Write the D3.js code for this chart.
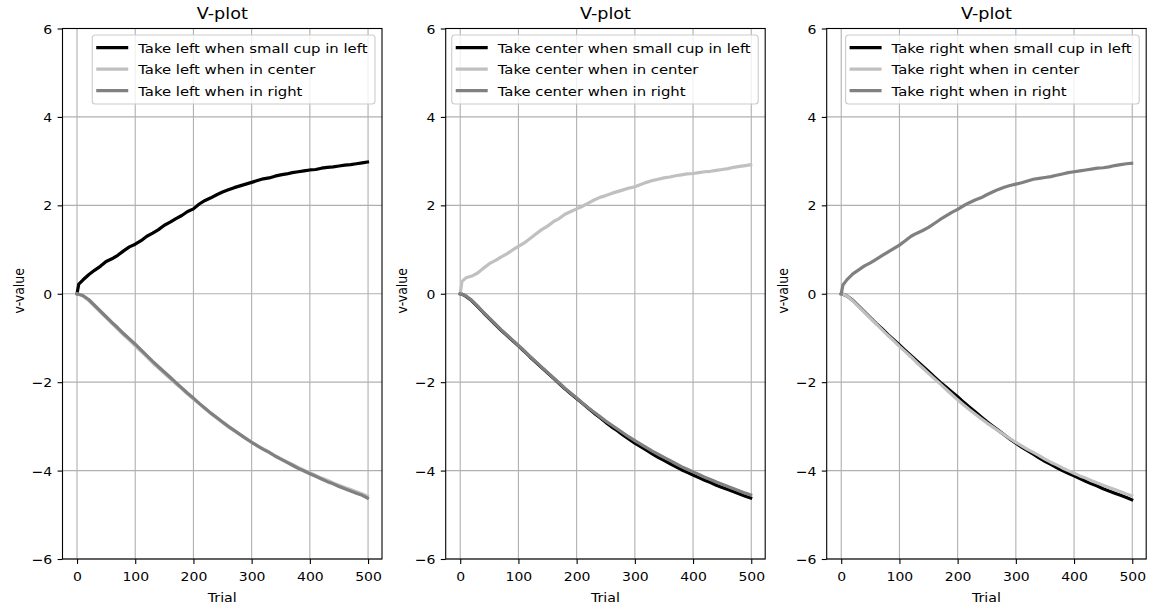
<!DOCTYPE html>
<html><head><meta charset="utf-8">
<script src="https://cdn.jsdelivr.net/npm/d3@7"></script>
<style>body{margin:0;background:#fff}svg{display:block}text{font-family:"DejaVu Sans",sans-serif;fill:#000}</style>
</head><body><svg id="c" width="1153" height="606"></svg>
<script>
const trials = [0,3,10,20,30,40,50,60,70,80,90,100,110,120,130,140,150,160,170,180,190,200,210,220,230,240,250,260,270,280,290,300,310,320,330,340,350,360,370,380,390,400,410,420,430,440,450,460,470,480,490,499];

const xTicks = [0,100,200,300,400,500];
const yTicks = [-6,-4,-2,0,2,4,6];
const titles = ["V-plot","V-plot","V-plot"];
const seriesColors = ["#000000","#c0c0c0","#808080"];

const labelsLeft = ["Take left when small cup in left","Take left when in center","Take left when in right"];
const labelsCenter = ["Take center when small cup in left","Take center when in center","Take center when in right"];
const labelsRight = ["Take right when small cup in left","Take right when in center","Take right when in right"];

// Panel 1
const p1Black = [0,0.22,0.31,0.43,0.53,0.62,0.73,0.79,0.87,0.97,1.06,1.12,1.2,1.3,1.37,1.45,1.55,1.62,1.7,1.77,1.86,1.92,2.03,2.11,2.17,2.24,2.3,2.35,2.4,2.44,2.48,2.52,2.56,2.6,2.62,2.66,2.69,2.71,2.74,2.76,2.78,2.8,2.81,2.84,2.86,2.87,2.89,2.91,2.92,2.94,2.96,2.98];
const p1Light = [0,-0.01,-0.05,-0.15,-0.28,-0.41,-0.54,-0.67,-0.8,-0.93,-1.05,-1.18,-1.3,-1.43,-1.56,-1.68,-1.8,-1.92,-2.04,-2.15,-2.27,-2.38,-2.49,-2.6,-2.71,-2.81,-2.91,-3.01,-3.1,-3.19,-3.28,-3.36,-3.44,-3.51,-3.58,-3.66,-3.73,-3.8,-3.86,-3.93,-3.99,-4.05,-4.11,-4.17,-4.22,-4.28,-4.33,-4.38,-4.43,-4.48,-4.53,-4.58];
const p1Gray = [0,-0.01,-0.04,-0.13,-0.26,-0.39,-0.52,-0.65,-0.77,-0.9,-1.02,-1.14,-1.27,-1.4,-1.53,-1.65,-1.77,-1.89,-2.01,-2.13,-2.25,-2.36,-2.48,-2.59,-2.7,-2.8,-2.9,-3.0,-3.09,-3.18,-3.27,-3.36,-3.44,-3.52,-3.59,-3.67,-3.74,-3.81,-3.88,-3.95,-4.01,-4.07,-4.13,-4.19,-4.25,-4.3,-4.36,-4.41,-4.46,-4.51,-4.56,-4.62];

// Panel 2
const p2Black = [0,-0.01,-0.06,-0.16,-0.29,-0.43,-0.56,-0.69,-0.82,-0.94,-1.06,-1.18,-1.3,-1.43,-1.55,-1.67,-1.79,-1.91,-2.03,-2.15,-2.26,-2.37,-2.48,-2.59,-2.7,-2.8,-2.91,-3.01,-3.1,-3.2,-3.29,-3.38,-3.46,-3.54,-3.62,-3.7,-3.77,-3.84,-3.91,-3.98,-4.04,-4.1,-4.16,-4.22,-4.27,-4.33,-4.38,-4.43,-4.48,-4.53,-4.58,-4.62];
const p2Light = [0,0.28,0.36,0.4,0.47,0.58,0.68,0.75,0.83,0.9,0.99,1.07,1.15,1.25,1.35,1.45,1.53,1.63,1.7,1.8,1.86,1.92,1.98,2.05,2.12,2.18,2.22,2.27,2.31,2.35,2.39,2.42,2.47,2.52,2.56,2.59,2.62,2.64,2.67,2.69,2.71,2.72,2.74,2.76,2.77,2.79,2.81,2.83,2.86,2.88,2.9,2.92];
const p2Gray = [0,-0.01,-0.05,-0.15,-0.28,-0.42,-0.55,-0.68,-0.81,-0.93,-1.05,-1.17,-1.29,-1.42,-1.54,-1.66,-1.78,-1.9,-2.02,-2.14,-2.25,-2.36,-2.47,-2.58,-2.68,-2.78,-2.88,-2.97,-3.06,-3.15,-3.24,-3.32,-3.4,-3.48,-3.56,-3.63,-3.7,-3.77,-3.84,-3.91,-3.97,-4.03,-4.09,-4.15,-4.2,-4.26,-4.31,-4.36,-4.41,-4.46,-4.51,-4.55];

// Panel 3
const p3Black = [0,-0.01,-0.05,-0.15,-0.28,-0.41,-0.54,-0.67,-0.79,-0.92,-1.04,-1.16,-1.28,-1.4,-1.52,-1.64,-1.76,-1.88,-2.0,-2.11,-2.22,-2.33,-2.45,-2.56,-2.67,-2.78,-2.89,-2.99,-3.09,-3.19,-3.29,-3.38,-3.47,-3.55,-3.63,-3.71,-3.79,-3.86,-3.93,-4.0,-4.06,-4.12,-4.18,-4.24,-4.3,-4.35,-4.41,-4.46,-4.51,-4.56,-4.61,-4.66];
const p3Light = [0,-0.01,-0.05,-0.16,-0.29,-0.42,-0.55,-0.68,-0.81,-0.94,-1.06,-1.19,-1.31,-1.43,-1.56,-1.68,-1.8,-1.92,-2.04,-2.16,-2.28,-2.4,-2.51,-2.62,-2.72,-2.82,-2.92,-3.01,-3.1,-3.19,-3.28,-3.36,-3.44,-3.52,-3.59,-3.66,-3.74,-3.81,-3.87,-3.94,-4.0,-4.06,-4.12,-4.17,-4.23,-4.28,-4.33,-4.38,-4.43,-4.48,-4.53,-4.57];
const p3Gray = [0,0.2,0.32,0.45,0.54,0.63,0.7,0.78,0.86,0.94,1.02,1.1,1.2,1.3,1.37,1.43,1.5,1.59,1.68,1.76,1.84,1.91,1.99,2.06,2.12,2.17,2.24,2.3,2.36,2.41,2.45,2.48,2.51,2.55,2.59,2.61,2.63,2.65,2.68,2.71,2.74,2.76,2.78,2.8,2.82,2.84,2.85,2.87,2.9,2.92,2.94,2.95];

const panels = [
  {labels: labelsLeft, series: [p1Black,p1Light,p1Gray], left: 62.5},
  {labels: labelsCenter, series: [p2Black,p2Light,p2Gray], left: 445.7},
  {labels: labelsRight, series: [p3Black,p3Light,p3Gray], left: 826.7}
];

const svg = d3.select("#c");
const W = 319.5, plotTop = 28.5, H = 530.5;
const vf = 0.88;           // vertical squash of the text glyphs
const fsTick = 14.0, fsLabel = 14.2, fsLeg = 14.85, fsTitle = 17.6;

function put(sel, x, y, rot) {
  return sel.attr("transform", rot ? `translate(${x},${y}) rotate(-90) scale(${vf},1)` : `translate(${x},${y}) scale(1,${vf})`);
}

panels.forEach((p, pi) => {
  const g = svg.append("g").attr("transform", `translate(${p.left},${plotTop})`);
  const x = d3.scaleLinear().domain([-24.95, 523.95]).range([0, W]);
  const y = d3.scaleLinear().domain([-6, 6]).range([H, 0]);

  // grid
  g.append("g").selectAll("line").data(xTicks).join("line")
    .attr("x1", d => x(d)).attr("x2", d => x(d)).attr("y1", 0).attr("y2", H)
    .attr("stroke", "#b0b0b0").attr("stroke-width", 1.1);
  g.append("g").selectAll("line").data(yTicks).join("line")
    .attr("y1", d => y(d)).attr("y2", d => y(d)).attr("x1", 0).attr("x2", W)
    .attr("stroke", "#b0b0b0").attr("stroke-width", 1.1);

  // lines
  const line = d3.line().x((d, i) => x(trials[i])).y(d => y(d));
  p.series.forEach((s, si) => {
    g.append("path").datum(s).attr("d", line).attr("fill", "none")
      .attr("stroke", seriesColors[si]).attr("stroke-width", 3.2)
      .attr("stroke-linejoin", "round").attr("stroke-linecap", "square");
  });

  // frame
  g.append("rect").attr("x", 0).attr("y", 0).attr("width", W).attr("height", H)
    .attr("fill", "none").attr("stroke", "#000").attr("stroke-width", 1.1);

  // axes
  const fmt = d => (d < 0 ? "\u2212" + Math.abs(d) : String(d));
  const xa = g.append("g").attr("transform", `translate(0,${H})`)
    .call(d3.axisBottom(x).tickValues(xTicks).tickFormat(fmt).tickSize(4.9).tickPadding(4.9));
  const ya = g.append("g")
    .call(d3.axisLeft(y).tickValues(yTicks).tickFormat(fmt).tickSize(4.9).tickPadding(4.9));
  [xa, ya].forEach(a => {
    a.select(".domain").remove();
    a.selectAll("line").attr("stroke", "#000").attr("stroke-width", 1.1);
    a.selectAll("text").style("font-size", fsTick + "px").style("font-family", "DejaVu Sans").attr("fill", "#000");
  });
  xa.selectAll(".tick text").attr("y", null).attr("dy", null).each(function () { put(d3.select(this), 0, 21.7); });
  ya.selectAll(".tick text").attr("x", null).attr("dy", null).each(function () { put(d3.select(this), -10.3, 4.5); });

  // labels
  put(g.append("text"), W / 2, -9.5).attr("text-anchor", "middle")
    .style("font-size", fsTitle + "px").text(titles[pi]);
  put(g.append("text"), W / 2, H + 42.7).attr("text-anchor", "middle")
    .style("font-size", fsLabel + "px").text("Trial");
  put(g.append("text"), -38.8, H / 2 - 3, true)
    .attr("text-anchor", "middle").style("font-size", fsLabel + "px").text("v-value");

  // legend
  const lg = g.append("g");
  const rowH = 21.5;
  const texts = lg.selectAll("text").data(p.labels).join("text")
    .style("font-size", fsLeg + "px").text(d => d);
  let maxW = 0;
  texts.each(function () { maxW = Math.max(maxW, this.getComputedTextLength()); });
  const boxW = 46 + maxW + 7.3;
  const boxX = W - 7 - boxW, boxY = 6.5, boxH = 69;
  lg.insert("rect", ":first-child").attr("x", boxX).attr("y", boxY).attr("width", boxW).attr("height", boxH)
    .attr("rx", 3).attr("fill", "#fff").attr("fill-opacity", 0.8).attr("stroke", "#cccccc").attr("stroke-width", 1.1);
  texts.each(function (d, i) { put(d3.select(this), boxX + 46, boxY + 12.7 + i * rowH + 4.8); });
  lg.selectAll("line.leg").data(p.labels).join("line").attr("class", "leg")
    .attr("x1", boxX + 4).attr("x2", boxX + 36)
    .attr("y1", (d, i) => boxY + 12.7 + i * rowH).attr("y2", (d, i) => boxY + 12.7 + i * rowH)
    .attr("stroke", (d, i) => seriesColors[i]).attr("stroke-width", 3.2);
});
</script></body></html>
